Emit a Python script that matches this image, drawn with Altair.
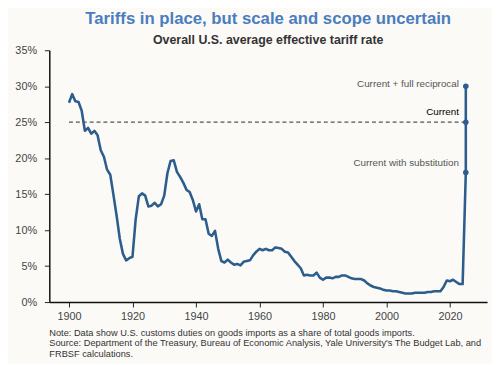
import altair as alt
import pandas as pd

# ---- data ----
years = list(range(1900, 2025))
rates = [
    27.7, 28.9, 27.9, 27.8, 26.6, 23.8, 24.2, 23.4, 23.8, 23.2,   # 1900s
    21.1, 20.2, 18.4, 17.7, 14.9, 12.0, 8.8, 6.7, 5.8, 6.1,       # 1910s
    6.3, 11.5, 14.7, 15.1, 14.8, 13.3, 13.4, 13.8, 13.3, 13.6,    # 1920s
    14.8, 17.9, 19.6, 19.7, 18.1, 17.4, 16.6, 15.6, 15.3, 14.2,   # 1930s
    12.6, 13.6, 11.5, 11.5, 9.5, 9.2, 9.9, 7.4, 5.7, 5.5,         # 1940s
    5.9, 5.5, 5.2, 5.3, 5.1, 5.6, 5.7, 5.8, 6.5, 7.0,             # 1950s
    7.4, 7.2, 7.4, 7.2, 7.2, 7.6, 7.5, 7.4, 7.0, 6.9,             # 1960s
    6.3, 5.7, 5.2, 4.7, 3.7, 3.8, 3.7, 3.7, 4.1, 3.4,             # 1970s
    3.1, 3.4, 3.4, 3.3, 3.5, 3.5, 3.7, 3.7, 3.5, 3.3,             # 1980s
    3.2, 3.2, 3.2, 3.0, 2.6, 2.3, 2.1, 2.0, 1.9, 1.7,             # 1990s
    1.6, 1.6, 1.5, 1.5, 1.4, 1.3, 1.2, 1.2, 1.2, 1.3,             # 2000s
    1.3, 1.3, 1.3, 1.4, 1.4, 1.5, 1.5, 1.5, 2.1, 3.0,             # 2010s
    2.9, 3.1, 2.8, 2.5, 2.5,                                      # 2020s
]

scenario_year = 2025
scenario_labels = ["Current with substitution", "Current", "Current + full reciprocal"]
scenario_values = [18.0, 25.0, 30.0]
scenario_label_colors = ["#555555", "#000000", "#555555"]

current_rate = 25.0
dashed_start = 1900

x_ticks = [1900, 1920, 1940, 1960, 1980, 2000, 2020]
y_ticks = [0, 5, 10, 15, 20, 25, 30, 35]

title_text = "Tariffs in place, but scale and scope uncertain"
subtitle_text = "Overall U.S. average effective tariff rate"
note_lines = [
    "Note: Data show U.S. customs duties on goods imports as a share of total goods imports.",
    "Source: Department of the Treasury, Bureau of Economic Analysis, Yale University's The Budget Lab, and",
    "FRBSF calculations.",
]

# ---- tables ----
line_years = years + [scenario_year] * len(scenario_values)
line_vals = rates + scenario_values
line_df = pd.DataFrame({"year": line_years, "rate": line_vals, "idx": list(range(len(line_years)))})
scen_df = pd.DataFrame({"year": [scenario_year] * len(scenario_values), "rate": scenario_values,
                        "label": scenario_labels, "lc": scenario_label_colors})
dash_df = pd.DataFrame({"year": [dashed_start], "year2": [scenario_year], "rate": [current_rate]})
one_row = pd.DataFrame({"k": [0]})

W, H = 445, 256
FONT = "Liberation Sans"
LINE_COLOR = "#2c5d8d"

x_scale = alt.Scale(domain=[1893.8, 2031.7], nice=False, zero=False)
y_scale = alt.Scale(domain=[0, 35], nice=False)

x_axis = alt.Axis(values=x_ticks, format="d", title=None, grid=False, labelFontSize=11,
                  labelColor="#444444", labelPadding=4, tickSize=5, tickColor="#222222",
                  domainColor="#111111", domainWidth=1.5, labelFont=FONT)
y_axis = alt.Axis(values=y_ticks, labelExpr="datum.value + '%'", title=None, grid=False,
                  labelFontSize=11, labelColor="#444444", labelPadding=8, tickSize=5,
                  tickColor="#222222", domainColor="#111111", domainWidth=1.5, labelFont=FONT,
                  labelOverlap=False)

X = alt.X("year:Q", scale=x_scale, axis=x_axis)
Y = alt.Y("rate:Q", scale=y_scale, axis=y_axis)

line = alt.Chart(line_df).mark_line(color=LINE_COLOR, strokeWidth=2.6, strokeJoin="round").encode(
    x=X, y=Y, order="idx:Q",
)

dash = alt.Chart(dash_df).mark_rule(color="#555555", strokeDash=[4, 3], strokeWidth=1.2).encode(
    x=X, x2="year2:Q", y=Y
)

points = alt.Chart(scen_df).mark_circle(color=LINE_COLOR, size=32, opacity=1).encode(
    x=X, y=Y
)

label_layers = []
for lab, dy in zip(scenario_labels, [-10, -10, -2]):
    label_layers.append(
        alt.Chart(scen_df).transform_filter(alt.datum.label == lab).mark_text(
            align="right", baseline="middle", dx=-7, dy=dy, fontSize=10, font=FONT
        ).encode(x=X, y=Y, text="label:N", color=alt.Color("lc:N", scale=None))
    )

title = alt.Chart(one_row).mark_text(
    align="center", baseline="top", fontSize=17, fontWeight="bold", color="#4a7dbf", font=FONT
).encode(x=alt.value(W / 2), y=alt.value(-40), text=alt.value(title_text))

subtitle = alt.Chart(one_row).mark_text(
    align="center", baseline="middle", fontSize=12.6, fontWeight="bold", color="#333333", font=FONT
).encode(x=alt.value(W / 2), y=alt.value(-10), text=alt.value(subtitle_text))

notes = alt.Chart(one_row).mark_text(
    align="left", baseline="top", fontSize=9.4, lineHeight=11, color="#333333", font=FONT
).encode(x=alt.value(0), y=alt.value(H + 27), text=alt.value(note_lines))

chart = alt.layer(line, dash, points, *label_layers, title, subtitle, notes).properties(
    width=W, height=H,
    autosize=alt.AutoSizeParams(type="none"),
    padding={"left": 42, "top": 40, "right": 5, "bottom": 60},
    background="#fbfaf7",
).configure_view(stroke=None)

chart.save("out.html", embed_options={"renderer": "svg", "actions": False})
